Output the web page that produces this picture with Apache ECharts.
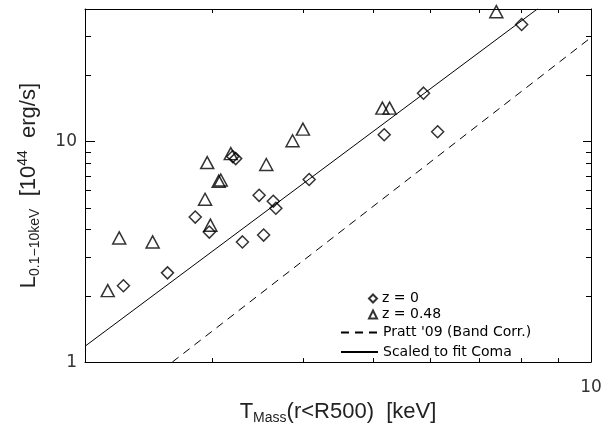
<!DOCTYPE html>
<html><head><meta charset="utf-8">
<script src="https://cdn.jsdelivr.net/npm/echarts@6/dist/echarts.min.js"></script>
<style>html,body{margin:0;padding:0;background:#fff}#c{width:613px;height:430px}</style>
</head><body><div id="c"></div>
<script>
// ---- data ----
const tempZ0   = [3.20, 3.23, 4.08, 3.48, 3.64, 3.67, 2.84, 2.97, 3.53, 3.30, 2.60, 2.26, 8.02, 5.87, 5.18, 6.14];
const lumZ0    = [8.56, 8.38, 6.74, 5.71, 5.37, 4.99, 4.55, 3.89, 3.77, 3.51, 2.54, 2.22, 34.0, 16.6, 10.75, 11.09];
const tempZ048 = [4.00, 3.87, 3.18, 2.95, 3.56, 3.06, 3.08, 2.93, 2.98, 2.23, 2.48, 2.15, 7.40, 5.15, 5.27];
const lumZ048  = [11.4, 10.1, 8.83, 8.04, 7.88, 6.62, 6.70, 5.48, 4.18, 3.66, 3.51, 2.11, 38.9, 14.2, 14.2];
const prattT = [2.64, 10];
const prattL = [1.0, 29.7];
const comaT  = [2.0, 8.44];
const comaL  = [1.18, 40.1];
const xTickValues = [3, 4, 5, 6, 7, 8, 9];
const xLabelValues = [10];
const yMinorTickValues = [2, 3, 4, 5, 6, 7, 8, 9, 20, 30];
const yMajorTickValues = [10];
const yLabelValues = [1, 10];
const seriesNames = ['z = 0', 'z = 0.48', "Pratt '09 (Band Corr.)", 'Scaled to fit Coma'];

const zip = (a, b) => a.map((v, i) => [v, b[i]]);
const black = '#000';
const titleFont = 'Liberation Sans';
const labelFont = 'DejaVu Sans';

function xAx(pos, withLabel, extra) {
  return Object.assign({
    type: 'log', min: 2, max: 10, position: pos,
    axisLine: { show: true, lineStyle: { color: black, width: 1 } },
    axisTick: { show: true, inside: true, length: 4, customValues: xTickValues, lineStyle: { color: black, width: 1 } },
    axisLabel: withLabel ? { show: true, customValues: xLabelValues, margin: 17, color: '#333', fontFamily: labelFont, fontSize: 17 } : { show: false },
    splitLine: { show: false }, minorTick: { show: false }
  }, extra || {});
}
function yAx(pos, ticks, len, withLabel, showLine, extra) {
  return Object.assign({
    type: 'log', min: 1, max: 40, position: pos,
    axisLine: { show: showLine, lineStyle: { color: black, width: 1 } },
    axisTick: { show: true, inside: true, length: len, customValues: ticks, lineStyle: { color: black, width: 1 } },
    axisLabel: withLabel ? { show: true, customValues: yLabelValues, margin: 8, color: '#333', fontFamily: labelFont, fontSize: 17 } : { show: false },
    splitLine: { show: false }, minorTick: { show: false }
  }, extra || {});
}

const chart = echarts.init(document.getElementById('c'), null, { renderer: 'canvas' });
chart.setOption({
  animation: false,
  backgroundColor: '#fff',
  grid: { left: 85, right: 22, top: 9, bottom: 65, containLabel: false },
  xAxis: [
    xAx('bottom', true, {
      name: '{m|T}{s|Mass}{m|(r<R500)  [keV]}',
      nameLocation: 'middle', nameGap: 29,
      nameTextStyle: { rich: {
        m: { fontFamily: titleFont, fontSize: 22, lineHeight: 26, verticalAlign: 'middle', color: '#222' },
        s: { fontFamily: titleFont, fontSize: 14, lineHeight: 14, verticalAlign: 'bottom', color: '#222' }
      } }
    }),
    xAx('top', false)
  ],
  yAxis: [
    yAx('left', yMinorTickValues, 6, true, true, {
      name: '{m|L}{s|0.1\u221210keV}{m|  [10}{p|44}{m|  erg/s]}',
      nameLocation: 'middle', nameGap: 43,
      nameTextStyle: { rich: {
        m: { fontFamily: titleFont, fontSize: 22, lineHeight: 26, verticalAlign: 'middle', color: '#222' },
        s: { fontFamily: titleFont, fontSize: 14, lineHeight: 14, verticalAlign: 'bottom', color: '#222' },
        p: { fontFamily: titleFont, fontSize: 14, lineHeight: 14, verticalAlign: 'top', color: '#222' }
      } }
    }),
    yAx('left', yMajorTickValues, 10, false, false),
    yAx('right', yMinorTickValues, 5, false, true),
    yAx('right', yMajorTickValues, 8, false, false)
  ],
  legend: [
    {
      data: [seriesNames[0], seriesNames[1]],
      orient: 'vertical', left: 368, top: 291, padding: 0,
      itemWidth: 8, itemHeight: 8, itemGap: 1, selectedMode: false,
      itemStyle: { borderWidth: 2 },
      textStyle: { fontFamily: labelFont, fontSize: 14, lineHeight: 15, color: '#000' }
    },
    {
      data: [seriesNames[2], seriesNames[3]],
      orient: 'vertical', left: 340, top: 325, padding: 0,
      itemWidth: 37, itemHeight: 8, itemGap: 4.5, selectedMode: false,
      itemStyle: { color: 'rgba(0,0,0,0)', borderColor: 'rgba(0,0,0,0)', borderWidth: 0, opacity: 0 },
      textStyle: { fontFamily: labelFont, fontSize: 14, lineHeight: 15, color: '#000' }
    }
  ],
  series: [
    {
      name: seriesNames[0], type: 'scatter', xAxisIndex: 0, yAxisIndex: 0,
      symbol: 'diamond', symbolSize: [12, 12],
      itemStyle: { color: 'rgba(0,0,0,0)', borderColor: black, borderWidth: 1.5 },
      emphasis: { disabled: true },
      data: zip(tempZ0, lumZ0), z: 3
    },
    {
      name: seriesNames[1], type: 'scatter', xAxisIndex: 0, yAxisIndex: 0,
      symbol: 'triangle', symbolSize: [13, 12],
      itemStyle: { color: 'rgba(0,0,0,0)', borderColor: black, borderWidth: 1.5 },
      emphasis: { disabled: true },
      data: zip(tempZ048, lumZ048), z: 3
    },
    {
      name: seriesNames[2], type: 'line', xAxisIndex: 0, yAxisIndex: 0,
      symbol: 'none', showSymbol: false, clip: true,
      itemStyle: { color: 'rgba(0,0,0,0)', opacity: 0 },
      lineStyle: { color: black, width: 1, type: [8, 6] },
      emphasis: { disabled: true },
      data: zip(prattT, prattL), z: 2
    },
    {
      name: seriesNames[3], type: 'line', xAxisIndex: 0, yAxisIndex: 0,
      symbol: 'none', showSymbol: false, clip: true,
      itemStyle: { color: 'rgba(0,0,0,0)', opacity: 0 },
      lineStyle: { color: black, width: 1, type: 'solid' },
      emphasis: { disabled: true },
      data: zip(comaT, comaL), z: 2
    }
  ]
});
</script>
</body></html>
